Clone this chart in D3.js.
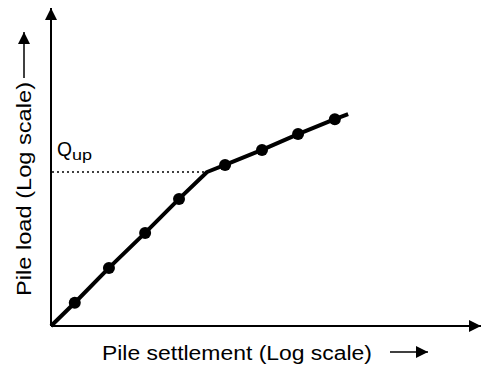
<!DOCTYPE html>
<html>
<head>
<meta charset="utf-8">
<script src="https://cdn.jsdelivr.net/npm/d3@7"></script>
<style>
  body { margin: 0; background: #fff; }
  text { font-family: Arial, "Liberation Sans", sans-serif; fill: #000; }
</style>
</head>
<body>
<div id="chart"></div>
<script>
// load-settlement curve (arbitrary units, both axes log)
var settlement = [1, 1.29, 1.86, 2.74, 3.94, 5.32, 6.45, 9.58, 14.1, 20.9, 24.1];
var load       = [1, 1.40, 2.32, 3.85, 6.30, 9.30, 10.3, 12.8, 16.1, 20.0, 21.5];
var marked     = [false, true, true, true, true, false, true, true, true, true, false];
var qUp = 9.3;
var xTitle = 'Pile settlement (Log scale)';
var yTitle = 'Pile load (Log scale)';

var width = 482, height = 365;

var svg = d3.select('#chart').append('svg')
  .attr('width', width)
  .attr('height', height);

var x = d3.scaleLog().domain([1, 100]).range([51, 481]);
var y = d3.scaleLog().domain([1, 100]).range([326, 8]);

var pts = settlement.map(function(s, i) {
  return {s: s, q: load[i], mark: marked[i]};
});

// arrow heads
var defs = svg.append('defs');
defs.append('marker')
  .attr('id', 'arrow')
  .attr('viewBox', '0 0 10 10')
  .attr('refX', 10).attr('refY', 5)
  .attr('markerUnits', 'userSpaceOnUse')
  .attr('markerWidth', 12).attr('markerHeight', 12)
  .attr('orient', 'auto')
  .append('path').attr('d', 'M0,0L10,5L0,10Z').attr('fill', '#000');

// axes
svg.append('line')
  .attr('x1', x.range()[0]).attr('y1', y.range()[0])
  .attr('x2', x.range()[1]).attr('y2', y.range()[0])
  .attr('stroke', '#000').attr('stroke-width', 2)
  .attr('marker-end', 'url(#arrow)');

svg.append('line')
  .attr('x1', x.range()[0]).attr('y1', y.range()[0])
  .attr('x2', x.range()[0]).attr('y2', y.range()[1])
  .attr('stroke', '#000').attr('stroke-width', 2)
  .attr('marker-end', 'url(#arrow)');

// Qup dotted line
var brk = pts.find(function(d) { return d.q === qUp; });
svg.append('line')
  .attr('x1', x.range()[0] + 1).attr('y1', y(qUp))
  .attr('x2', x(brk.s)).attr('y2', y(qUp))
  .attr('stroke', '#000').attr('stroke-width', 1.3)
  .attr('stroke-dasharray', '2,3');

svg.append('text')
  .attr('x', 57).attr('y', y(qUp) - 16)
  .attr('textLength', 15).attr('lengthAdjust', 'spacingAndGlyphs')
  .style('font-size', '20px')
  .text('Q');
svg.append('text')
  .attr('x', 72).attr('y', y(qUp) - 12)
  .attr('textLength', 20).attr('lengthAdjust', 'spacingAndGlyphs')
  .style('font-size', '14px')
  .text('up');

// curve
var line = d3.line()
  .x(function(d) { return x(d.s); })
  .y(function(d) { return y(d.q); });

svg.append('path')
  .datum(pts)
  .attr('d', line)
  .attr('fill', 'none')
  .attr('stroke', '#000')
  .attr('stroke-width', 4)
  .attr('stroke-linejoin', 'round');

svg.selectAll('.pt')
  .data(pts.filter(function(d) { return d.mark; }))
  .enter().append('circle')
  .attr('class', 'pt')
  .attr('cx', function(d) { return x(d.s); })
  .attr('cy', function(d) { return y(d.q); })
  .attr('r', 6)
  .attr('fill', '#000');

// x title with arrow
svg.append('text')
  .attr('x', 102).attr('y', 360)
  .attr('textLength', 270).attr('lengthAdjust', 'spacingAndGlyphs')
  .style('font-size', '20px')
  .text(xTitle);
svg.append('line')
  .attr('x1', 390).attr('y1', 352).attr('x2', 428).attr('y2', 352)
  .attr('stroke', '#000').attr('stroke-width', 1.5)
  .attr('marker-end', 'url(#arrow)');

// y title with arrow
svg.append('text')
  .attr('transform', 'translate(31,296) rotate(-90)')
  .attr('textLength', 214).attr('lengthAdjust', 'spacingAndGlyphs')
  .style('font-size', '20px')
  .text(yTitle);
svg.append('line')
  .attr('x1', 24).attr('y1', 78).attr('x2', 24).attr('y2', 32)
  .attr('stroke', '#000').attr('stroke-width', 1.5)
  .attr('marker-end', 'url(#arrow)');
</script>
</body>
</html>
